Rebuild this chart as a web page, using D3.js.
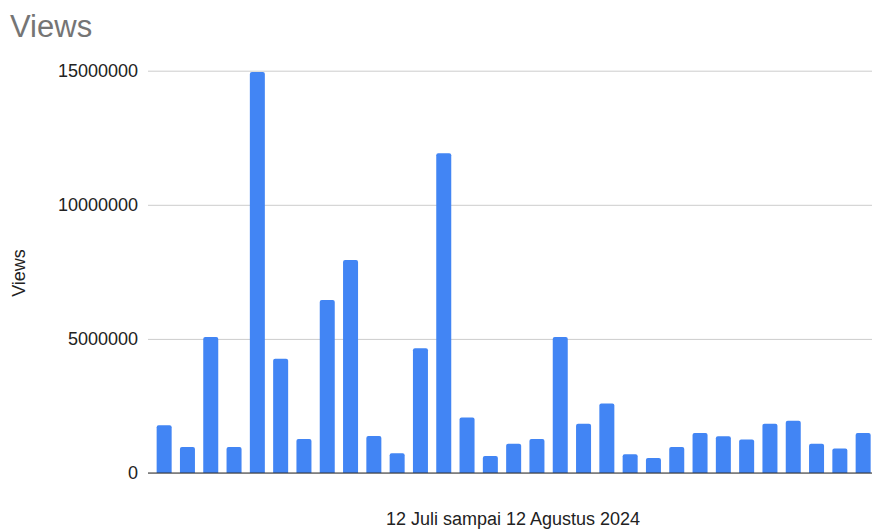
<!DOCTYPE html>
<html>
<head>
<meta charset="utf-8">
<script src="https://cdn.jsdelivr.net/npm/d3@7"></script>
<style>
  body { margin: 0; background: #fff; }
  svg { display: block; font-family: "Liberation Sans", Arial, sans-serif; }
</style>
</head>
<body>
<svg id="chart" width="872" height="529"></svg>
<script>
// days from 12 Juli onward (one bar per day)
var days = ["12 Jul", "13 Jul", "14 Jul", "15 Jul", "16 Jul", "17 Jul", "18 Jul", "19 Jul",
  "20 Jul", "21 Jul", "22 Jul", "23 Jul", "24 Jul", "25 Jul", "26 Jul", "27 Jul", "28 Jul",
  "29 Jul", "30 Jul", "31 Jul", "1 Agu", "2 Agu", "3 Agu", "4 Agu", "5 Agu", "6 Agu",
  "7 Agu", "8 Agu", "9 Agu", "10 Agu", "11 Agu"];

var views = [1780000, 970000, 5070000, 970000, 14950000, 4260000, 1270000, 6450000,
  7940000, 1380000, 740000, 4650000, 11920000, 2070000, 630000, 1090000, 1270000,
  5070000, 1840000, 2590000, 700000, 560000, 970000, 1490000, 1370000, 1250000,
  1840000, 1950000, 1090000, 910000, 1490000];

var yTicks = [0, 5000000, 10000000, 15000000];

var svg = d3.select("#chart");

// plot box
var plotLeft = 148, plotRight = 872, plotBase = 473, plotTop = 70.7;

var x = d3.scaleBand()
  .domain(days)
  .range([152.5, 874.8])
  .paddingInner(0.356)
  .paddingOuter(0.178);

var y = d3.scaleLinear()
  .domain([0, 15000000])
  .range([plotBase, plotTop]);

// title
svg.append("text")
  .attr("x", 10).attr("y", 37)
  .attr("font-size", 31)
  .attr("fill", "#757575")
  .text("Views");

// gridlines + tick labels
var yAxis = svg.append("g")
  .attr("transform", "translate(" + plotLeft + ",0)")
  .call(d3.axisLeft(y)
    .tickValues(yTicks)
    .tickFormat(d3.format("d"))
    .tickSize(-(plotRight - plotLeft))
    .tickPadding(10));

yAxis.select(".domain").remove();
yAxis.selectAll(".tick line").attr("stroke", "#cccccc");
yAxis.selectAll(".tick text")
  .attr("font-size", 18)
  .attr("fill", "#222")
  .attr("font-family", "Liberation Sans, Arial, sans-serif");

// bars with slightly rounded tops
function barPath(d, i) {
  var x0 = x(days[i]), w = x.bandwidth(), y0 = y(d), r = 2;
  return "M" + x0 + "," + plotBase +
    "V" + (y0 + r) +
    "Q" + x0 + "," + y0 + " " + (x0 + r) + "," + y0 +
    "H" + (x0 + w - r) +
    "Q" + (x0 + w) + "," + y0 + " " + (x0 + w) + "," + (y0 + r) +
    "V" + plotBase + "Z";
}

svg.append("g")
  .selectAll("path")
  .data(views)
  .enter().append("path")
  .attr("d", barPath)
  .attr("fill", "#4285f4");

// baseline
svg.append("line")
  .attr("x1", plotLeft).attr("x2", plotRight)
  .attr("y1", plotBase).attr("y2", plotBase)
  .attr("stroke", "#333")
  .attr("stroke-width", 1.2);

// axis titles
svg.append("text")
  .attr("transform", "translate(25,273) rotate(-90)")
  .attr("text-anchor", "middle")
  .attr("font-size", 18)
  .attr("fill", "#222")
  .text("Views");

svg.append("text")
  .attr("x", 513).attr("y", 525)
  .attr("text-anchor", "middle")
  .attr("font-size", 18)
  .attr("fill", "#222")
  .text("12 Juli sampai 12 Agustus 2024");
</script>
</body>
</html>
